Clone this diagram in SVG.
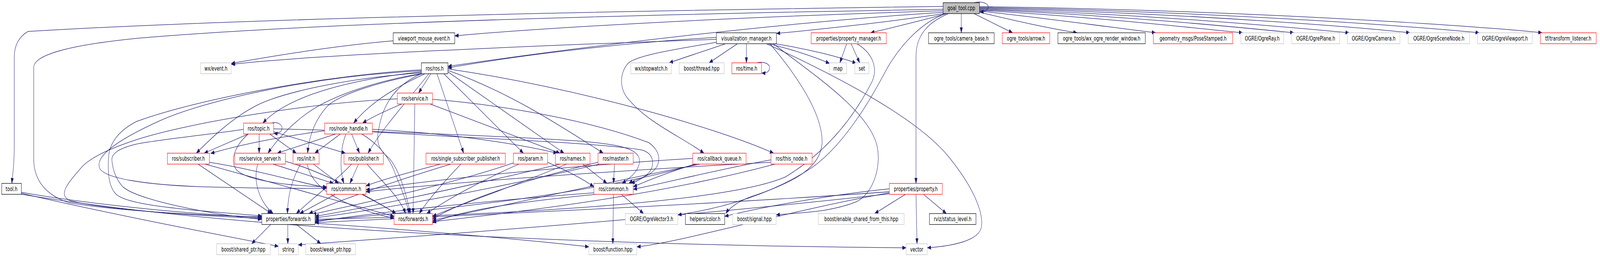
<svg xmlns="http://www.w3.org/2000/svg" width="4680" height="659" viewBox="0 0 4680 659">
<defs>
<marker id="a" viewBox="0 0 11 8" refX="11" refY="4" markerWidth="11" markerHeight="8" markerUnits="userSpaceOnUse" orient="auto"><path d="M0,0L11,4L0,8z" fill="#191970" stroke="#191970" stroke-width="0.5"/></marker>
</defs>
<style>
.e path{fill:none;stroke:#191970;stroke-width:1;marker-end:url(#a)}
.n rect{fill:#fff;stroke-width:1}
.b rect{stroke:#000}
.r rect{stroke:#ff0000}
.g rect{stroke:#bfbfbf}
.root rect{fill:#bfbfbf;stroke:#000}
.n text{font-family:"DejaVu Sans","Liberation Sans",sans-serif;font-size:12.2px;text-anchor:middle;fill:#000}
</style>
<rect width="4680" height="659" fill="#fff"/>
<g transform="scale(0.874,1.2609)">
<g id="edges" class="e">
<path d="M2853,5.5 C2878,1 2898,8 2894,16 C2890,23 2882,24 2870,23.5"/>
<path d="M2762.3,13 C1800,22 700,38 82,64 C55,75 42,92 41.7,116 L41.7,300 C41.7,340 36,360 34.7,373"/>
<path d="M2762.3,19 C1800,30 900,48 400,78 C200,92 99,112 98.7,137 L98.7,323 C98.7,370 140,398 200,412 C350,430 600,438 766.7,441"/>
<path d="M2762.3,22 C2000,38 1500,62 1332,73"/>
<path d="M2766,27.7 C2600,45 2400,60 2274.3,68"/>
<path d="M2772,27.7 C2700,42 2620,55 2550,66.7"/>
<path d="M2778,27.7 C2720,45 2683,70 2683,115 L2683,373"/>
<path d="M2815.7,27.7 L2815.7,66.7"/>
<path d="M2853,27.7 L2966,66.7"/>
<path d="M2869,25 C2950,38 3050,55 3155,66.7"/>
<path d="M2869,22.5 C3050,36 3250,55 3385,66.7"/>
<path d="M2869,21 C3200,34 3500,57 3640,66.7"/>
<path d="M2869,19.5 C3300,32 3650,57 3790,66.7"/>
<path d="M2869,18 C3400,30 3800,57 3952,66.7"/>
<path d="M2869,16.5 C3500,27 4000,57 4130,66.7"/>
<path d="M2869,15 C3600,24 4200,57 4333,66.7"/>
<path d="M2869,13.5 C3700,21 4400,57 4517,66.7"/>
<path d="M2762.3,25 C2300,45 1700,95 1312,135"/>
<path d="M2770,27.7 C2700,45 2640,90 2600,137 C2560,190 2480,290 2380,340 C2250,400 2100,425 1985.3,437"/>
<path d="M1151.7,83 C1000,92 850,108 677.3,129"/>
<path d="M2098.3,80 C1600,92 900,112 677.3,131"/>
<path d="M2098.3,76 C1800,88 1500,115 1312,138"/>
<path d="M2125,88.9 C2080,100 2020,113 1960,127.8"/>
<path d="M2160,88.9 L2077,127.8"/>
<path d="M2186.3,88.9 L2186.3,127.8"/>
<path d="M2218,127.8 C2240,124 2256,131 2254,139 C2252,147 2244,149 2231,148.5"/>
<path d="M2250,88.9 C2320,100 2390,117 2430,129"/>
<path d="M2270,88.9 C2370,100 2460,116 2508,128.5"/>
<path d="M2480,88.9 L2460,127.8"/>
<path d="M2493,88.9 L2518,127.8"/>
<path d="M2245,88.9 C2500,170 2700,250 2780,320 C2850,380 2880,430 2875,460 C2870,490 2790,500 2716,504"/>
<path d="M2098.3,86 C2000,98 1860,112 1838,130 C1815,150 1812,182 1845,205 C1900,250 2000,280 2062,311.5"/>
<path d="M2255,88.9 C2330,150 2410,230 2408,290 C2405,340 2330,370 2200,400 C2160,410 2135,424 2126,434.3"/>
<path d="M2265,88.9 C2400,160 2550,230 2570,300 C2580,340 2560,390 2510,410 C2430,432 2350,432 2273.3,437"/>
<path d="M2510,88.9 C2560,110 2570,140 2555,165 C2500,240 2420,310 2300,360 C2100,420 1300,440 922.7,446"/>
<path d="M1262,150 L1226,189.2"/>
<path d="M1234.3,146 C1050,160 850,190 770,250.3"/>
<path d="M1245,150 C1150,180 1080,212 1036,250.3"/>
<path d="M1234.3,148 C1000,160 820,190 750,215 C680,240 620,280 575,311.5"/>
<path d="M1234.3,149.5 C1100,165 970,195 900,230 C850,255 810,285 785,311.5"/>
<path d="M1238,150 C1120,165 1000,190 960,215 C920,245 905,280 901,311.5"/>
<path d="M1256,150 C1200,200 1120,260 1078,311.5"/>
<path d="M1280,150 L1358,311.5"/>
<path d="M1300,150 L1533,311.5"/>
<path d="M1312,146 L1652,311.5"/>
<path d="M1312,143 C1500,190 1650,260 1767,311.5"/>
<path d="M1312,140 C1700,180 2100,260 2266,311.5"/>
<path d="M1234.3,150 C1150,175 1120,220 1110,260 C1100,290 1110,305 1140,322 C1170,345 1192,400 1202,434.3"/>
<path d="M1234.3,142 C1000,150 600,196 400,247 C350,265 320,290 318,320 C315,350 318,380 340,395 C370,415 500,425 766.7,439"/>
<path d="M1234.3,144 C900,156 600,205 470,245 C320,292 280,322 292,342 C305,362 420,376 600,380 C800,384 900,383 956.7,383"/>
<path d="M1215,211.4 L1210,434.3"/>
<path d="M1177,211.4 C1130,225 1090,238 1062,250.3"/>
<path d="M1163.7,201 C900,210 550,250 400,284 C330,300 260,320 233,345 C200,372 168,396 205,408 C300,426 600,440 766.7,444"/>
<path d="M1260,211.4 L1640,311.5"/>
<path d="M1266.7,202 C1500,215 1750,250 1900,290 C1942,310 1937,340 1900,355 C1872,365 1852,368 1842,373"/>
<path d="M795,250.3 C815,247 827,254 826,261 C825,268 816,272 802,271.5"/>
<path d="M727,272.5 L598,311.5"/>
<path d="M759,272.5 L759,311.5"/>
<path d="M801.7,268 L1012,311.5"/>
<path d="M790,272.5 L868,311.5"/>
<path d="M713.3,263 C600,275 450,285 400,293 C340,303 325,315 328,327 C330,345 340,365 360,380 C400,405 600,435 766.7,446"/>
<path d="M727,272.5 C690,295 672,325 692,345 C722,368 850,378 956.7,380"/>
<path d="M801.7,262 C1200,268 1550,280 1700,287 C1800,293 1870,300 1873,325 C1875,345 1850,360 1822,373"/>
<path d="M950.7,266 C800,280 700,295 617,312"/>
<path d="M983,272.5 L812,311.5"/>
<path d="M997,272.5 L922,311.5"/>
<path d="M1030,272.5 L1053,311.5"/>
<path d="M1013,272.5 C998,300 993,340 1007,373"/>
<path d="M1060,272.5 C1100,290 1130,310 1150,340 C1172,378 1192,410 1198,434.3"/>
<path d="M1090.7,263 C1300,270 1500,290 1632,311.5"/>
<path d="M1090.7,268 C1400,282 1750,290 1880,305 C1915,312 1920,335 1900,352 C1880,365 1860,370 1848,373"/>
<path d="M580,333.7 L795,434.3"/>
<path d="M613.3,330 C750,345 870,370 956.7,382"/>
<path d="M600,333.7 C800,372 1000,412 1154.3,440"/>
<path d="M755,333.7 C740,370 760,410 800,434.3"/>
<path d="M800,333.7 L977,373"/>
<path d="M836,328 C950,350 1080,400 1160,434.3"/>
<path d="M880,333.7 C852,370 843,400 842,434.3"/>
<path d="M918,333.7 L992,373"/>
<path d="M900,333.7 C910,380 1000,420 1154.3,444"/>
<path d="M1050,333.7 L1025,373"/>
<path d="M1030,333.7 C980,370 920,400 868,434.3"/>
<path d="M1075,333.7 C1120,370 1170,400 1188,434.3"/>
<path d="M1350,333.7 C1300,370 1250,410 1228,434.3"/>
<path d="M1290,333.7 C1200,350 1120,365 1072,378"/>
<path d="M1320,333.7 C1100,380 950,420 905,434.3"/>
<path d="M1604,330 C1670,350 1712,366 1739.3,380"/>
<path d="M1520,333.7 C1400,370 1300,410 1250,434.3"/>
<path d="M1505,331 C1300,380 1000,422 915,436"/>
<path d="M1707,333.7 L1778,373"/>
<path d="M1660,333.7 C1500,380 1350,415 1266.7,440"/>
<path d="M1640,333.7 C1300,390 1050,425 922.7,440"/>
<path d="M1800,333.7 L1797,373"/>
<path d="M1751.7,330 C1500,372 1350,412 1266.7,445"/>
<path d="M1755,333.7 C1400,392 1100,427 922.7,443"/>
<path d="M2035,333.7 C1950,352 1900,366 1854.7,380"/>
<path d="M2050,333.7 C1700,382 1450,422 1266.7,448"/>
<path d="M2029.3,322 C1700,336 1300,362 1072,386"/>
<path d="M2040,333.7 C1700,402 1200,432 922.7,449"/>
<path d="M2258.3,325 C2100,345 1950,372 1854.7,385"/>
<path d="M2270,333.7 C1900,402 1500,432 1266.7,451"/>
<path d="M2258.3,330 C1800,347 1300,372 1072,390"/>
<path d="M982,395.2 L878,434.3"/>
<path d="M1060,395.2 C1100,410 1140,425 1160,434.3"/>
<path d="M1797,395.2 L1795,495.8"/>
<path d="M1820,395.2 L1885,434.3"/>
<path d="M1739.3,392 C1400,410 1100,432 922.7,451"/>
<path d="M1745,395.2 C1500,412 1350,428 1266.7,453"/>
<path d="M2683,395.2 L2686,495.8"/>
<path d="M2705,395.2 L2772,434.3"/>
<path d="M2652,395.2 L2562,434.3"/>
<path d="M2605,384 C2450,395 2250,418 2122.7,440"/>
<path d="M2605,390 C2000,420 1200,442 922.7,453"/>
<path d="M2605,392 C2300,430 2000,492 1865.3,502"/>
<path d="M2605,394 C2000,442 1200,482 873.3,498"/>
<path d="M793,456.5 L737,495.8"/>
<path d="M843,456.5 L843,495.8"/>
<path d="M868,456.5 L940,495.8"/>
<path d="M922.7,454 C1300,472 1600,492 1725,502"/>
<path d="M62.7,391 C300,420 600,437 766.7,442"/>
<path d="M62.7,393 C300,432 600,472 815.7,501"/>
<path d="M62.7,395 C800,480 2000,500 2654.3,504"/>
</g>
<g id="n0" class="n root"><rect x="2762.3" y="5.5" width="106.7" height="22.2"/><text x="2815.7" y="21">goal_tool.cpp</text></g>
<g id="n1" class="n b"><rect x="5" y="373" width="57.7" height="22.2"/><text x="33.9" y="388.5">tool.h</text></g>
<g id="n2" class="n b"><rect x="1151.7" y="66.7" width="180.3" height="22.2"/><text x="1241.9" y="82.2">viewport_mouse_event.h</text></g>
<g id="n3" class="n b"><rect x="2098.3" y="66.7" width="176" height="22.2"/><text x="2186.3" y="82.2">visualization_manager.h</text></g>
<g id="n4" class="n r"><rect x="2376" y="66.7" width="220" height="22.2"/><text x="2486" y="82.2">properties/property_manager.h</text></g>
<g id="n5" class="n b"><rect x="2719.7" y="66.7" width="192.3" height="22.2"/><text x="2815.9" y="82.2">ogre_tools/camera_base.h</text></g>
<g id="n6" class="n r"><rect x="2935.7" y="66.7" width="139" height="22.2"/><text x="3005.2" y="82.2">ogre_tools/arrow.h</text></g>
<g id="n7" class="n b"><rect x="3098.7" y="66.7" width="256" height="22.2"/><text x="3226.7" y="82.2">ogre_tools/wx_ogre_render_window.h</text></g>
<g id="n8" class="n r"><rect x="3378.3" y="66.7" width="232.3" height="22.2"/><text x="3494.5" y="82.2">geometry_msgs/PoseStamped.h</text></g>
<g id="n9" class="n g"><rect x="3634.3" y="66.7" width="125.6" height="22.2"/><text x="3697.1" y="82.2">OGRE/OgreRay.h</text></g>
<g id="n10" class="n g"><rect x="3783.6" y="66.7" width="140.4" height="22.2"/><text x="3853.8" y="82.2">OGRE/OgrePlane.h</text></g>
<g id="n11" class="n g"><rect x="3946.6" y="66.7" width="153.9" height="22.2"/><text x="4023.5" y="82.2">OGRE/OgreCamera.h</text></g>
<g id="n12" class="n g"><rect x="4124.8" y="66.7" width="179.4" height="22.2"/><text x="4214.5" y="82.2">OGRE/OgreSceneNode.h</text></g>
<g id="n13" class="n g"><rect x="4327.9" y="66.7" width="160.2" height="22.2"/><text x="4408" y="82.2">OGRE/OgreViewport.h</text></g>
<g id="n14" class="n r"><rect x="4511.8" y="66.7" width="163.5" height="22.2"/><text x="4593.5" y="82.2">tf/transform_listener.h</text></g>
<g id="n15" class="n g"><rect x="587.7" y="127.8" width="89.6" height="22.2"/><text x="632.5" y="143.3">wx/event.h</text></g>
<g id="n16" class="n b"><rect x="1234.3" y="127.8" width="77.7" height="22.2"/><text x="1273.2" y="143.3">ros/ros.h</text></g>
<g id="n17" class="n g"><rect x="1847.7" y="127.8" width="119" height="22.2"/><text x="1907.2" y="143.3">wx/stopwatch.h</text></g>
<g id="n18" class="n g"><rect x="1989.3" y="127.8" width="131.7" height="22.2"/><text x="2055.2" y="143.3">boost/thread.hpp</text></g>
<g id="n19" class="n r"><rect x="2143.7" y="127.8" width="86.6" height="22.2"/><text x="2187" y="143.3">ros/time.h</text></g>
<g id="n20" class="n g"><rect x="2429" y="127.8" width="51" height="22.2"/><text x="2454.5" y="143.3">map</text></g>
<g id="n21" class="n g"><rect x="2503.7" y="127.8" width="41.6" height="22.2"/><text x="2524.5" y="143.3">set</text></g>
<g id="n22" class="n r"><rect x="1163.7" y="189.2" width="103" height="22.2"/><text x="1215.2" y="204.7">ros/service.h</text></g>
<g id="n23" class="n r"><rect x="713.3" y="250.3" width="88.4" height="22.2"/><text x="757.5" y="265.8">ros/topic.h</text></g>
<g id="n24" class="n r"><rect x="950.7" y="250.3" width="140" height="22.2"/><text x="1020.7" y="265.8">ros/node_handle.h</text></g>
<g id="n25" class="n r"><rect x="490.3" y="311.5" width="123" height="22.2"/><text x="551.8" y="327">ros/subscriber.h</text></g>
<g id="n26" class="n r"><rect x="687.3" y="311.5" width="148.7" height="22.2"/><text x="761.7" y="327">ros/service_server.h</text></g>
<g id="n27" class="n r"><rect x="858.3" y="311.5" width="76.4" height="22.2"/><text x="896.5" y="327">ros/init.h</text></g>
<g id="n28" class="n r"><rect x="1007.7" y="311.5" width="115" height="22.2"/><text x="1065.2" y="327">ros/publisher.h</text></g>
<g id="n29" class="n r"><rect x="1247.7" y="311.5" width="232.3" height="22.2"/><text x="1363.8" y="327">ros/single_subscriber_publisher.h</text></g>
<g id="n30" class="n r"><rect x="1503.7" y="311.5" width="100.3" height="22.2"/><text x="1553.8" y="327">ros/param.h</text></g>
<g id="n31" class="n r"><rect x="1626.7" y="311.5" width="101.6" height="22.2"/><text x="1677.5" y="327">ros/names.h</text></g>
<g id="n32" class="n r"><rect x="1751.7" y="311.5" width="103" height="22.2"/><text x="1803.2" y="327">ros/master.h</text></g>
<g id="n33" class="n r"><rect x="2029.3" y="311.5" width="156" height="22.2"/><text x="2107.3" y="327">ros/callback_queue.h</text></g>
<g id="n34" class="n r"><rect x="2258.3" y="311.5" width="120.4" height="22.2"/><text x="2318.5" y="327">ros/this_node.h</text></g>
<g id="n35" class="n r"><rect x="956.7" y="373" width="115.3" height="22.2"/><text x="1014.3" y="388.5">ros/common.h</text></g>
<g id="n36" class="n r"><rect x="1739.3" y="373" width="115.4" height="22.2"/><text x="1797" y="388.5">ros/common.h</text></g>
<g id="n37" class="n r"><rect x="2605" y="373" width="155" height="22.2"/><text x="2682.5" y="388.5">properties/property.h</text></g>
<g id="n38" class="n b"><rect x="766.7" y="434.3" width="156" height="22.2"/><text x="844.7" y="449.8">properties/forwards.h</text></g>
<g id="n39" class="n r"><rect x="1154.3" y="434.3" width="112.4" height="22.2"/><text x="1210.5" y="449.8">ros/forwards.h</text></g>
<g id="n40" class="n g"><rect x="1831.7" y="434.3" width="153.6" height="22.2"/><text x="1908.5" y="449.8">OGRE/OgreVector3.h</text></g>
<g id="n41" class="n b"><rect x="2007.7" y="434.3" width="115" height="22.2"/><text x="2065.2" y="449.8">helpers/color.h</text></g>
<g id="n42" class="n g"><rect x="2146.3" y="434.3" width="127" height="22.2"/><text x="2209.8" y="449.8">boost/signal.hpp</text></g>
<g id="n43" class="n g"><rect x="2397" y="434.3" width="251.3" height="22.2"/><text x="2522.7" y="449.8">boost/enable_shared_from_this.hpp</text></g>
<g id="n44" class="n b"><rect x="2722.3" y="434.3" width="136.4" height="22.2"/><text x="2790.5" y="449.8">rviz/status_level.h</text></g>
<g id="n45" class="n g"><rect x="634.3" y="495.8" width="157.4" height="22.2"/><text x="713" y="511.3">boost/shared_ptr.hpp</text></g>
<g id="n46" class="n g"><rect x="815.7" y="495.8" width="57.6" height="22.2"/><text x="844.5" y="511.3">string</text></g>
<g id="n47" class="n g"><rect x="895.7" y="495.8" width="145.6" height="22.2"/><text x="968.5" y="511.3">boost/weak_ptr.hpp</text></g>
<g id="n48" class="n g"><rect x="1725" y="495.8" width="140.3" height="22.2"/><text x="1795.2" y="511.3">boost/function.hpp</text></g>
<g id="n49" class="n g"><rect x="2654.3" y="495.8" width="61.7" height="22.2"/><text x="2685.2" y="511.3">vector</text></g>
</g>
</svg>
